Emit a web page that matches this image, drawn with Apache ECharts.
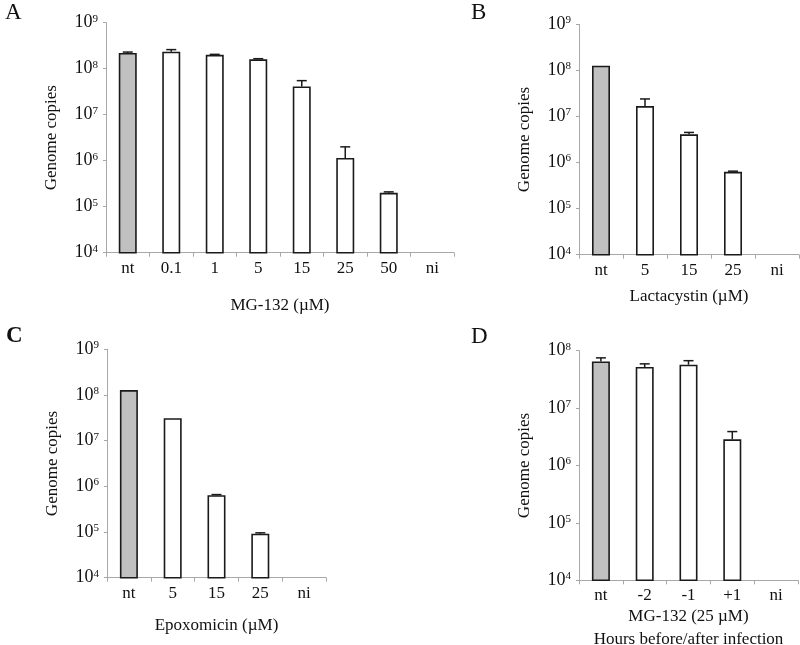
<!DOCTYPE html>
<html><head><meta charset="utf-8">
<script src="https://cdn.jsdelivr.net/npm/echarts@6/dist/echarts.min.js"></script>
<style>html,body{margin:0;padding:0;background:#fff}#c{width:800px;height:645px}</style>
</head><body><div id="c"></div>
<script>
// ---- data ----
const catsA = ['nt','0.1','1','5','15','25','50','ni'];
const valsA = [2.2e8, 2.35e8, 2.0e8, 1.6e8, 4.1e7, 1.15e6, 2.0e5, null];
const errA  = [2.3e8, 2.6e8, 2.05e8, 1.65e8, 5.5e7, 2.0e6, 2.1e5, null];

const catsB = ['nt','5','15','25','ni'];
const valsB = [1.26e8, 1.68e7, 4.1e6, 6.3e5, null];
const errB  = [null, 2.4e7, 4.5e6, 6.5e5, null];

const catsC = ['nt','5','15','25','ni'];
const valsC = [1.28e8, 3.1e7, 6.4e5, 9.2e4, null];
const errC  = [null, null, 6.6e5, 9.6e4, null];

const catsD = ['nt','-2','-1','+1','ni'];
const valsD = [6.5e7, 5.2e7, 5.7e7, 2.86e6, null];
const errD  = [7.5e7, 5.9e7, 6.7e7, 3.9e6, null];

const yMinExp = 4;
const yMaxExps = [9, 9, 9, 8];
const xNames = ['MG-132 (\u00b5M)', 'Lactacystin (\u00b5M)', 'Epoxomicin (\u00b5M)', 'MG-132 (25 \u00b5M)\nHours before/after infection'];
const panelLetters = ['A','B','C','D'];

// ---- chart ----
const FONT = "'Liberation Serif','Times New Roman',serif";
const panels = [
  {cats: catsA, vals: valsA, errs: errA, grid: {left:106, top:22.7, width:348, height:230}, nameGap: 41},
  {cats: catsB, vals: valsB, errs: errB, grid: {left:579, top:24.3, width:220, height:230.4}, nameGap: 30},
  {cats: catsC, vals: valsC, errs: errC, grid: {left:107, top:349.3, width:219, height:228.4}, nameGap: 36},
  {cats: catsD, vals: valsD, errs: errD, grid: {left:579, top:350.7, width:219, height:229.6}, nameGap: 24}
];

const grids = [], xAxes = [], yAxes = [], series = [];
panels.forEach((p, k) => {
  grids.push(Object.assign({outerBoundsMode: 'none', containLabel: false}, p.grid));
  xAxes.push({
    type: 'category', gridIndex: k, data: p.cats,
    name: xNames[k], nameLocation: 'middle', nameGap: p.nameGap,
    nameTextStyle: {fontFamily: FONT, fontSize: 17, color: '#111', lineHeight: 23},
    axisLine: {lineStyle: {color: '#a8a8a8', width: 1}},
    axisTick: {show: true, length: 4, lineStyle: {color: '#a8a8a8'}},
    axisLabel: {interval: 0, margin: 7, fontFamily: FONT, fontSize: 17, color: '#111'},
    splitLine: {show: false}
  });
  yAxes.push({
    type: 'log', gridIndex: k, logBase: 10,
    min: Math.pow(10, yMinExp), max: Math.pow(10, yMaxExps[k]),
    name: 'Genome copies', nameLocation: 'middle', nameGap: 46, nameRotate: 90,
    nameTextStyle: {fontFamily: FONT, fontSize: 17, color: '#111'},
    axisLine: {show: true, lineStyle: {color: '#a8a8a8', width: 1}},
    axisTick: {show: true, length: 3, lineStyle: {color: '#a8a8a8'}},
    minorTick: {show: false},
    splitLine: {show: false},
    axisLabel: {
      margin: 8,
      formatter: v => '{b|10}{s|' + Math.round(Math.log10(v)) + '}',
      rich: {
        b: {fontFamily: FONT, fontSize: 18, color: '#111'},
        s: {fontFamily: FONT, fontSize: 11, color: '#111', verticalAlign: 'top', padding: [0,0,8,0]}
      }
    }
  });
  series.push({
    type: 'bar', xAxisIndex: k, yAxisIndex: k, barWidth: 18, clip: true,
    data: p.vals.map((v, i) => v == null ? '-' : {
      value: v,
      itemStyle: {color: i === 0 ? '#c0c0c0' : '#ffffff', borderColor: '#1a1a1a', borderWidth: 1.6}
    }),
    animation: false
  });
  series.push({
    type: 'custom', xAxisIndex: k, yAxisIndex: k, animation: false,
    data: p.vals.map((v, i) => [i, v == null ? NaN : v, p.errs[i] == null ? NaN : p.errs[i]]),
    renderItem: (params, api) => {
      const i = api.value(0), v = api.value(1), e = api.value(2);
      if (isNaN(v) || isNaN(e)) return null;
      const p1 = api.coord([i, v]);
      const p2 = api.coord([i, e]);
      const hw = 5;
      return {
        type: 'group',
        children: [
          {type: 'line', shape: {x1: p1[0], y1: p1[1], x2: p2[0], y2: p2[1]}, style: {stroke: '#1a1a1a', lineWidth: 1.5}},
          {type: 'line', shape: {x1: p2[0]-hw, y1: p2[1], x2: p2[0]+hw, y2: p2[1]}, style: {stroke: '#1a1a1a', lineWidth: 1.5}}
        ]
      };
    }
  });
});

const letterPos = [[5, 1, 'normal'], [471, 1, 'normal'], [6, 325, 'bold'], [471, 325, 'normal']];
const graphics = panelLetters.map((t, k) => ({
  type: 'text', left: letterPos[k][0], top: letterPos[k][1],
  style: {text: t, fontFamily: FONT, fontSize: 23, fontWeight: letterPos[k][2], fill: '#111'}
}));

const chart = echarts.init(document.getElementById('c'), null, {renderer: 'canvas'});
chart.setOption({
  animation: false,
  backgroundColor: '#ffffff',
  grid: grids, xAxis: xAxes, yAxis: yAxes, series: series,
  graphic: graphics
});
</script>
</body></html>
